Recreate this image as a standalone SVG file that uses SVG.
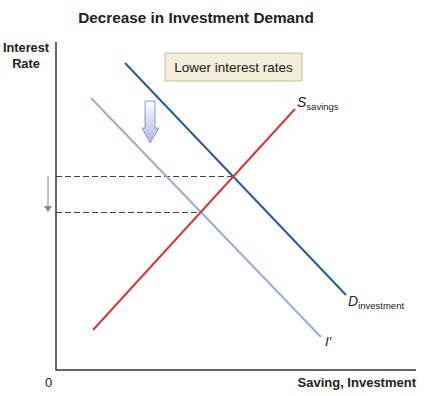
<svg xmlns="http://www.w3.org/2000/svg" width="429" height="396" viewBox="0 0 429 396">
<defs>
<style>
text{font-family:"Liberation Sans",Arial,sans-serif;fill:#222}
.b{font-weight:bold}
.ax{stroke:#333;stroke-width:1.5;fill:none}
.dash{stroke:#444;stroke-width:1;stroke-dasharray:6,3;fill:none}
</style>
<linearGradient id="g" x1="0" y1="0" x2="0" y2="1">
<stop offset="0" stop-color="#ffffff"/>
<stop offset="1" stop-color="#a9b7e0"/>
</linearGradient>
<marker id="ah" viewBox="0 0 6 8" refX="5" refY="4" markerWidth="6" markerHeight="8" orient="auto" markerUnits="userSpaceOnUse">
<path d="M0,0 L6,4 L0,8 Z" fill="#888"/>
</marker>
</defs>
<text class="b" x="196" y="23" font-size="15.3" text-anchor="middle">Decrease in Investment Demand</text>
<g id="axes">
<path class="ax" d="M56,42 V370 H416"/>
<text class="b" x="26" y="52" font-size="12.8" text-anchor="middle">Interest</text>
<text class="b" x="26" y="68" font-size="12.8" text-anchor="middle">Rate</text>
<text x="48.5" y="387" font-size="13" text-anchor="middle">0</text>
<text class="b" x="416" y="387" font-size="13" text-anchor="end">Saving, Investment</text>
</g>
<g id="note">
<rect x="165" y="53" width="137" height="28" fill="#f2eed9" stroke="#cdbf90" stroke-width="1"/>
<text x="233.5" y="72" font-size="13.5" text-anchor="middle">Lower interest rates</text>
</g>
<g id="shift-arrow">
<path d="M145,101 H155 V128 H159 L150,143 L142,128 H145 Z" fill="url(#g)" stroke="#8d9ccc" stroke-width="1"/>
</g>
<g id="connectors">
<path class="dash" d="M56,176.5 H233"/>
<path class="dash" d="M56,212.5 H200"/>
<path d="M48,176 V211" stroke="#888" stroke-width="1" marker-end="url(#ah)"/>
</g>
<g id="I-prime">
<line x1="91" y1="98" x2="321" y2="337" stroke="#9eabd6" stroke-width="2"/>
<text x="325" y="346" font-size="13.5" font-style="italic">I′</text>
</g>
<g id="D-investment">
<line x1="125" y1="63" x2="346" y2="295" stroke="#255aa0" stroke-width="2"/>
<text x="348" y="306" font-size="14" font-style="italic">D<tspan font-size="9.5" font-style="normal" dy="3">investment</tspan></text>
</g>
<g id="S-savings">
<line x1="93" y1="330" x2="295" y2="109" stroke="#dc3535" stroke-width="2"/>
<text x="297" y="107" font-size="14" font-style="italic">S<tspan font-size="9.5" font-style="normal" dy="3">savings</tspan></text>
</g>
</svg>
